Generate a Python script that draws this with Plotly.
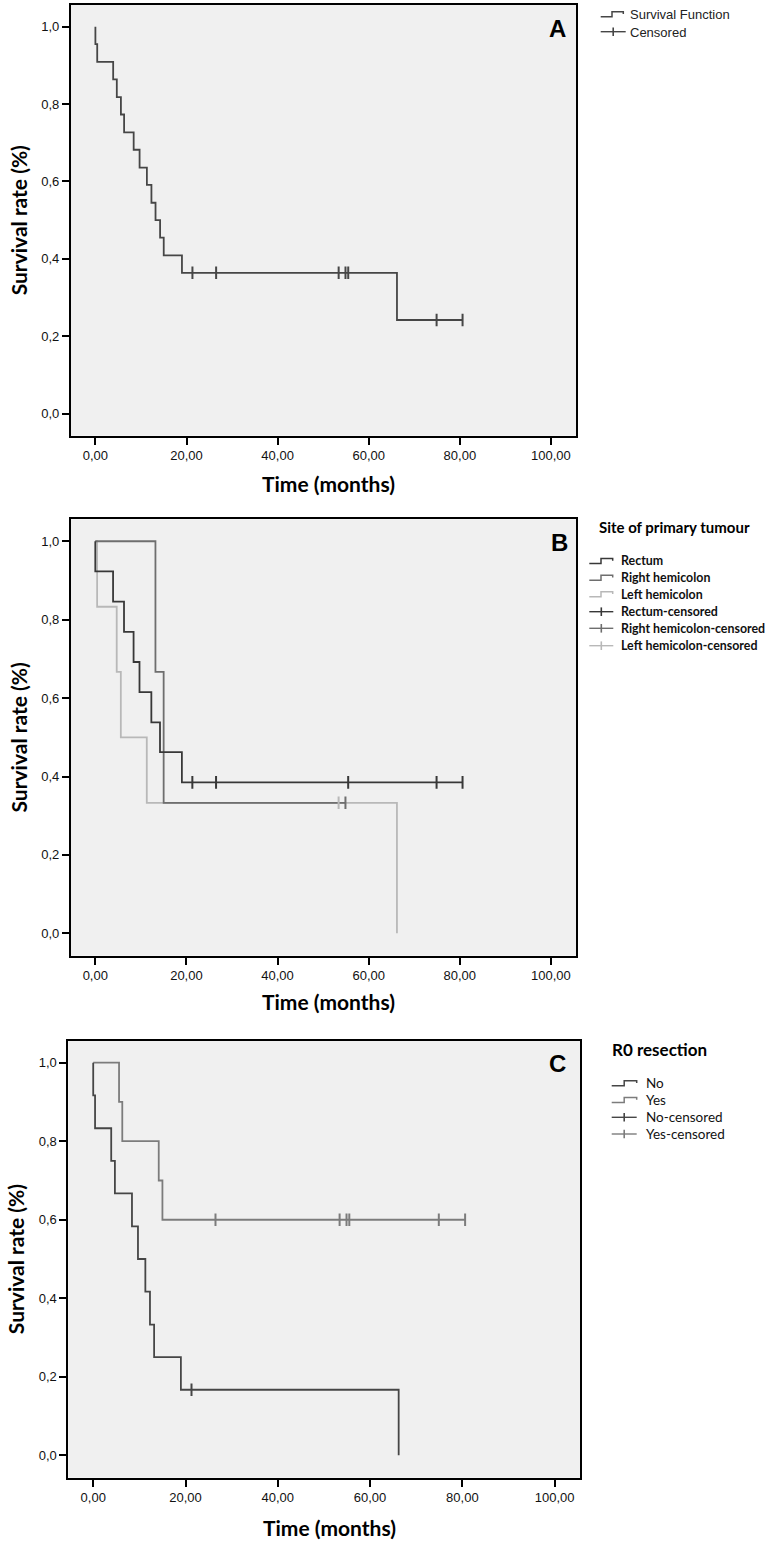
import plotly.graph_objects as go

# ---------------- data ----------------
x_ticks = [0, 20, 40, 60, 80, 100]
y_ticks = [0.0, 0.2, 0.4, 0.6, 0.8, 1.0]

# Panel A - overall survival function
a_time = [0, 0, 0.4, 3.9, 4.7, 5.6, 6.3, 8.4, 9.7, 11.3, 12.3, 13.2, 14.2, 15.0, 19.0, 66.2, 80.6]
a_surv = [1.0, 0.955, 0.909, 0.864, 0.818, 0.773, 0.727, 0.682, 0.636, 0.591, 0.545, 0.500,
          0.455, 0.409, 0.364, 0.242, 0.242]
a_cens_time = [21.3, 26.5, 53.4, 54.9, 55.5, 74.9, 80.6]
a_cens_surv = [0.364, 0.364, 0.364, 0.364, 0.364, 0.242, 0.242]

# Panel B - site of primary tumour
rectum_time = [0, 0, 3.9, 6.3, 8.4, 9.7, 12.3, 14.2, 19.0, 80.6]
rectum_surv = [1.0, 0.923, 0.846, 0.769, 0.692, 0.615, 0.538, 0.462, 0.385, 0.385]
rectum_cens_time = [21.3, 26.5, 55.5, 74.9, 80.6]
rectum_cens_surv = [0.385, 0.385, 0.385, 0.385, 0.385]
right_time = [0, 13.2, 15.0, 54.9]
right_surv = [1.0, 0.667, 0.333, 0.333]
right_cens_time = [54.9]
right_cens_surv = [0.333]
left_time = [0, 0.4, 4.7, 5.6, 11.3, 66.2]
left_surv = [1.0, 0.833, 0.667, 0.500, 0.333, 0.0]
left_cens_time = [53.4]
left_cens_surv = [0.333]

# Panel C - R0 resection
no_time = [0, 0, 0.4, 3.9, 4.7, 8.4, 9.7, 11.3, 12.3, 13.2, 19.0, 66.2]
no_surv = [1.0, 0.917, 0.833, 0.750, 0.667, 0.583, 0.500, 0.417, 0.333, 0.250, 0.167, 0.0]
no_cens_time = [21.3]
no_cens_surv = [0.167]
yes_time = [0, 5.6, 6.3, 14.2, 15.0, 80.6]
yes_surv = [1.0, 0.9, 0.8, 0.7, 0.6, 0.6]
yes_cens_time = [26.5, 53.4, 54.9, 55.5, 74.9, 80.6]
yes_cens_surv = [0.6, 0.6, 0.6, 0.6, 0.6, 0.6]

legend_a = ["Survival Function", "Censored"]
legend_b_title = "Site of primary tumour"
legend_b = ["Rectum", "Right hemicolon", "Left hemicolon",
            "Rectum-censored", "Right hemicolon-censored", "Left hemicolon-censored"]
legend_c_title = "R0 resection"
legend_c = ["No", "Yes", "No-censored", "Yes-censored"]

# ---------------- layout helpers ----------------
W, H = 776, 1546


def fx(p):
    return p / W


def fy(p):
    return 1 - p / H


C_A = "#464646"
C_RECT = "#383838"
C_RIGHT = "#6e6e6e"
C_LEFT = "#b8b8b8"
C_NO = "#464646"
C_YES = "#7c7c7c"

TICK_FONT = dict(family="Liberation Sans, Arial, sans-serif", size=13, color="#111")
TITLE_FONT = dict(family="Lato, sans-serif", size=21, color="#000")

fig = go.Figure()


def add_curve(t, s, color, ax):
    fig.add_trace(go.Scatter(x=t, y=s, mode="lines", line=dict(color=color, width=1.8, shape="hv"),
                             xaxis="x" + ax, yaxis="y" + ax, showlegend=False, hoverinfo="skip"))


def add_cens(t, s, color, ax):
    fig.add_trace(go.Scatter(x=t, y=s, mode="markers",
                             marker=dict(symbol="line-ns", size=9, line=dict(color=color, width=2)),
                             xaxis="x" + ax, yaxis="y" + ax, showlegend=False, hoverinfo="skip"))


# Panel A
add_curve(a_time, a_surv, C_A, "")
add_cens(a_cens_time, a_cens_surv, C_A, "")
# Panel B
add_curve(left_time, left_surv, C_LEFT, "2")
add_curve(right_time, right_surv, C_RIGHT, "2")
add_curve(rectum_time, rectum_surv, C_RECT, "2")
add_cens(left_cens_time, left_cens_surv, C_LEFT, "2")
add_cens(right_cens_time, right_cens_surv, C_RIGHT, "2")
add_cens(rectum_cens_time, rectum_cens_surv, C_RECT, "2")
# Panel C
add_curve(yes_time, yes_surv, C_YES, "3")
add_curve(no_time, no_surv, C_NO, "3")
add_cens(yes_cens_time, yes_cens_surv, C_YES, "3")
add_cens(no_cens_time, no_cens_surv, C_NO, "3")

boxes = {
    "": (70.8, 576, 5, 435.7),
    "2": (70.7, 576, 519.3, 955.7),
    "3": (68.3, 580, 1040.7, 1477.7),
}

axis_common = dict(showline=True, linecolor="#000", linewidth=1.7, mirror=True,
                   ticks="outside", ticklen=7, tickwidth=1.9, tickcolor="#000",
                   showgrid=False, zeroline=False, tickfont=TICK_FONT, fixedrange=True,
                   automargin=False)

layout = dict(width=W, height=H, margin=dict(l=0, r=0, t=0, b=0, pad=0),
              paper_bgcolor="white", plot_bgcolor="#f0f0f0", separators=",.",
              showlegend=False)

for key, (x0, x1, y0, y1) in boxes.items():
    layout["xaxis" + key] = dict(axis_common, domain=[fx(x0), fx(x1)], range=[-5.4, 105.5],
                                 tickvals=x_ticks, tickformat=".2f",
                                 anchor="y" + key)
    layout["yaxis" + key] = dict(axis_common, domain=[fy(y1), fy(y0)], range=[-0.057, 1.056],
                                 tickvals=y_ticks, tickformat=".1f",
                                 anchor="x" + key)

fig.update_layout(**layout)

ann = []
shapes = []


def text(x, y, s, font, xanchor="center", angle=0):
    ann.append(dict(x=fx(x), y=fy(y), xref="paper", yref="paper", text=s, showarrow=False,
                    font=font, xanchor=xanchor, yanchor="middle", textangle=angle))


# axis titles and panel letters
for (x0, x1, y0, y1), (tx_y, ty_x), letter, lpos in zip(
        boxes.values(),
        [(484, 18), (1001, 18), (1527, 15)],
        ["A", "B", "C"],
        [(557, 28), (559, 542), (557, 1063)]):
    text((x0 + x1) / 2 + 5, tx_y, "<b>Time (months)</b>", TITLE_FONT)
    text(ty_x, (y0 + y1) / 2, "<b>Survival rate (%)</b>", TITLE_FONT, angle=-90)
    text(lpos[0], lpos[1], "<b>%s</b>" % letter,
         dict(family="Liberation Sans, Arial, sans-serif", size=24, color="#000"))


def step_symbol(x0, yc, color, w=24):
    a = x0 + w * 0.5
    b = x0 + w
    path = "M %f %f L %f %f L %f %f L %f %f L %f %f" % (
        fx(x0), fy(yc + 2.5), fx(a), fy(yc + 2.5), fx(a), fy(yc - 2.5),
        fx(b), fy(yc - 2.5), fx(b), fy(yc - 0.3))
    shapes.append(dict(type="path", path=path, xref="paper", yref="paper",
                       line=dict(color=color, width=1.5)))


def cens_symbol(x0, yc, color, w=25):
    shapes.append(dict(type="line", xref="paper", yref="paper", x0=fx(x0), x1=fx(x0 + w),
                       y0=fy(yc), y1=fy(yc), line=dict(color=color, width=1.4)))
    shapes.append(dict(type="line", xref="paper", yref="paper", x0=fx(x0 + w / 2), x1=fx(x0 + w / 2),
                       y0=fy(yc - 4.3), y1=fy(yc + 4.3), line=dict(color=color, width=1.6)))


# Legend A
LA_FONT = dict(family="Liberation Sans, Arial, sans-serif", size=13, color="#222")
step_symbol(600.7, 14.2, C_A, 22.6)
text(628.3, 14.3, legend_a[0], LA_FONT, xanchor="left")
cens_symbol(600.7, 31.7, C_A, 25)
text(628.3, 32.3, legend_a[1], LA_FONT, xanchor="left")

# Legend B
LB_FONT = dict(family="Lato, sans-serif", size=12.4, color="#111")
text(596.7, 527.3, "<b>%s</b>" % legend_b_title, dict(family="Lato, sans-serif", size=15, color="#000"),
     xanchor="left")
b_cols = [C_RECT, C_RIGHT, C_LEFT]
b_ys = [561, 577.7, 594.3, 611.7, 628.3, 645.7]
for i, (lab, yc) in enumerate(zip(legend_b, b_ys)):
    col = b_cols[i % 3]
    if i < 3:
        step_symbol(589.3, yc, col, 23.4)
    else:
        cens_symbol(589.3, yc, col, 24)
    text(619.3, yc, "<b>%s</b>" % lab, LB_FONT, xanchor="left")

# Legend C
LC_FONT = dict(family="Lato, sans-serif", size=13.5, color="#111")
text(610, 1049.3, "<b>%s</b>" % legend_c_title, dict(family="Lato, sans-serif", size=17, color="#000"),
     xanchor="left")
c_cols = [C_NO, C_YES]
c_ys = [1083.3, 1100, 1117.3, 1134]
for i, (lab, yc) in enumerate(zip(legend_c, c_ys)):
    col = c_cols[i % 2]
    if i < 2:
        step_symbol(611.7, yc, col, 25)
    else:
        cens_symbol(611.7, yc, col, 25)
    text(644, yc, lab, LC_FONT, xanchor="left")

fig.update_layout(annotations=ann, shapes=shapes)
fig.write_html("out.html", config={"displayModeBar": False},
               post_script="document.body.style.margin='0';document.body.style.overflow='hidden';")
